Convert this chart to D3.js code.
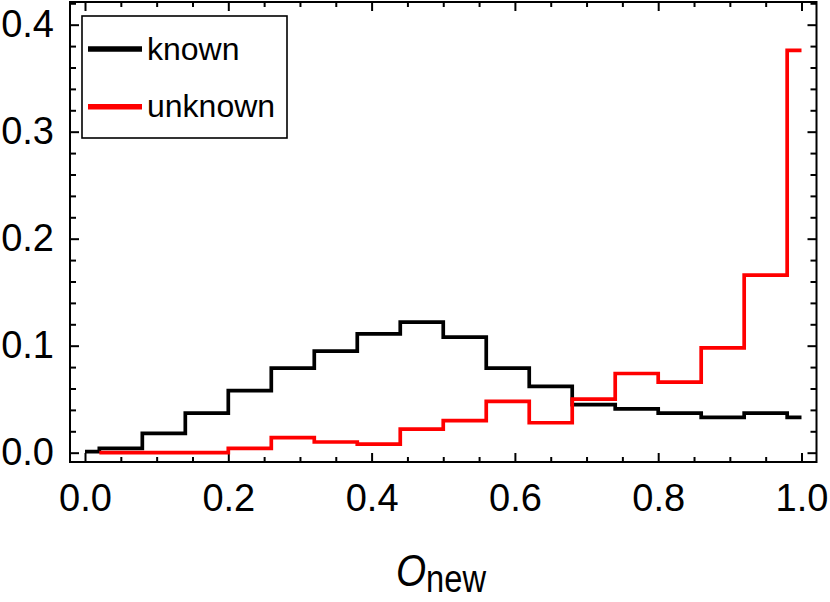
<!DOCTYPE html>
<html>
<head>
<meta charset="utf-8">
<script src="https://cdn.jsdelivr.net/npm/d3@7"></script>
<style>
  html, body { margin: 0; padding: 0; background: #fff; }
  svg { display: block; font-family: "Liberation Sans", Arial, sans-serif; }
</style>
</head>
<body>
<svg id="chart" width="830" height="602"></svg>
<script>
// ---- data ----
const binEdges = [0, 0.02, 0.08, 0.14, 0.20, 0.26, 0.32, 0.38, 0.44, 0.50, 0.56, 0.62, 0.68, 0.74, 0.80, 0.86, 0.92, 0.98, 1.0];
const knownValues = [0.001, 0.004, 0.018, 0.037, 0.058, 0.079, 0.095, 0.111, 0.122, 0.108, 0.079, 0.062, 0.045, 0.041, 0.037, 0.033, 0.037, 0.033];
const unknownValues = [null, 0.0, 0.0, 0.0, 0.004, 0.014, 0.010, 0.008, 0.022, 0.030, 0.048, 0.028, 0.050, 0.074, 0.066, 0.098, 0.166, 0.376];
const seriesNames = ["known", "unknown"];
const seriesColors = ["#000000", "#ff0000"];
const xTickValues = [0, 0.2, 0.4, 0.6, 0.8, 1.0];
const xTickLabels = ["0.0", "0.2", "0.4", "0.6", "0.8", "1.0"];
const yTickValues = [0, 0.1, 0.2, 0.3, 0.4];
const yTickLabels = ["0.0", "0.1", "0.2", "0.3", "0.4"];
const xMinorStep = 0.05;
const yMinorStep = 0.02;

// ---- layout ----
const svg = d3.select("#chart");
const L = 70, R = 816.5, T = 2, B = 462;
const x = d3.scaleLinear().domain([-0.02094, 1.02094]).range([L, R]);
const y = d3.scaleLinear().domain([-0.0087, 0.4212]).range([B, T]);

const xMinor = d3.range(0, 1.0001, xMinorStep).map(v => +v.toFixed(3)).filter(v => !xTickValues.some(t => Math.abs(t - v) < 1e-6));
const yMinor = d3.range(0, 0.4201, yMinorStep).map(v => +v.toFixed(3)).filter(v => !yTickValues.some(t => Math.abs(t - v) < 1e-6));

function styleAxis(g) {
  g.select(".domain").remove();
  g.selectAll(".tick line").attr("stroke", "#000").attr("stroke-width", 2);
  g.selectAll(".tick text").attr("fill", "#000").style("font-size", "38px").style("font-family", '"Liberation Sans", Arial, sans-serif');
}

// major axes with labels
svg.append("g").attr("transform", `translate(0,${B})`)
  .call(d3.axisBottom(x).tickValues(xTickValues).tickFormat((d, i) => xTickLabels[i]).tickSize(-9).tickPadding(22))
  .call(styleAxis);
svg.append("g").attr("transform", `translate(${L},0)`)
  .call(d3.axisLeft(y).tickValues(yTickValues).tickFormat((d, i) => yTickLabels[i]).tickSize(-9).tickPadding(16))
  .call(styleAxis);
// minor ticks
svg.append("g").attr("transform", `translate(0,${B})`)
  .call(d3.axisBottom(x).tickValues(xMinor).tickFormat("").tickSize(-5)).call(styleAxis);
svg.append("g").attr("transform", `translate(${L},0)`)
  .call(d3.axisLeft(y).tickValues(yMinor).tickFormat("").tickSize(-6)).call(styleAxis);
// mirrored ticks top/right
svg.append("g").attr("transform", `translate(0,${T})`)
  .call(d3.axisTop(x).tickValues(xTickValues).tickFormat("").tickSize(-9)).call(styleAxis);
svg.append("g").attr("transform", `translate(0,${T})`)
  .call(d3.axisTop(x).tickValues(xMinor).tickFormat("").tickSize(-5)).call(styleAxis);
svg.append("g").attr("transform", `translate(${R},0)`)
  .call(d3.axisRight(y).tickValues(yTickValues).tickFormat("").tickSize(-9)).call(styleAxis);
svg.append("g").attr("transform", `translate(${R},0)`)
  .call(d3.axisRight(y).tickValues(yMinor).tickFormat("").tickSize(-6)).call(styleAxis);

// frame
svg.append("rect").attr("x", L).attr("y", T).attr("width", R - L).attr("height", B - T)
  .attr("fill", "none").attr("stroke", "#000").attr("stroke-width", 2);

// step lines
function stepPoints(values) {
  const pts = [];
  values.forEach((v, i) => {
    if (v === null) { pts.push(null); return; }
    pts.push([binEdges[i], v]);
    pts.push([binEdges[i + 1], v]);
  });
  return pts;
}
const line = d3.line().defined(d => d !== null).x(d => x(d[0])).y(d => y(d[1]));
[knownValues, unknownValues].forEach((vals, k) => {
  svg.append("path").datum(stepPoints(vals))
    .attr("d", line).attr("fill", "none")
    .attr("stroke", seriesColors[k]).attr("stroke-width", 3.7)
    .attr("stroke-linejoin", "miter").attr("stroke-linecap", "butt");
});

// legend
const lg = svg.append("g");
lg.append("rect").attr("x", 82).attr("y", 16).attr("width", 205).attr("height", 122)
  .attr("fill", "#fff").attr("stroke", "#000").attr("stroke-width", 1.6);
seriesNames.forEach((name, i) => {
  const yy = 49 + i * 57.7;
  lg.append("line").attr("x1", 88).attr("x2", 142).attr("y1", yy).attr("y2", yy)
    .attr("stroke", seriesColors[i]).attr("stroke-width", 5.5);
  lg.append("text").attr("x", 147).attr("y", yy + 10.5).text(name)
    .style("font-size", "32px").attr("fill", "#000");
});

// axis title
const title = svg.append("text").attr("transform", "translate(441,586) scale(0.86,1)")
  .attr("text-anchor", "middle").attr("fill", "#000");
title.append("tspan").text("O").style("font-style", "italic").style("font-size", "45px");
title.append("tspan").text("new").attr("dy", 6).style("font-size", "38px");
</script>
</body>
</html>
